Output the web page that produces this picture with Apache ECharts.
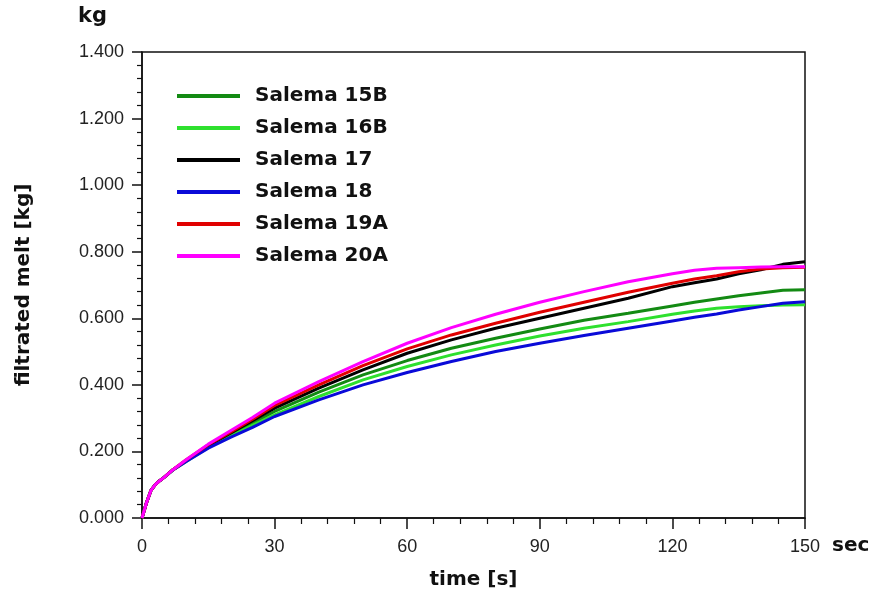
<!DOCTYPE html>
<html>
<head>
<meta charset="utf-8">
<script src="https://cdn.jsdelivr.net/npm/echarts@6/dist/echarts.min.js"></script>
<style>
html,body{margin:0;padding:0;background:#fff;}
#chart{width:882px;height:605px;}
</style>
</head>
<body>
<div id="chart"></div>
<script>
// time in seconds
var time = [0,1,2,3,4,5,7,10,15,20,25,30,40,50,60,70,80,90,100,110,120,125,130,135,140,145,150];
var seriesNames = ['Salema 15B','Salema 16B','Salema 17','Salema 18','Salema 19A','Salema 20A'];
var salema15B = [0,0.045,0.082,0.1,0.112,0.122,0.145,0.172,0.216,0.25,0.285,0.32,0.378,0.43,0.473,0.51,0.54,0.568,0.594,0.615,0.637,0.648,0.658,0.668,0.676,0.684,0.686];
var salema16B = [0,0.045,0.082,0.1,0.112,0.122,0.144,0.17,0.212,0.245,0.278,0.31,0.365,0.415,0.455,0.49,0.52,0.547,0.57,0.59,0.612,0.622,0.63,0.635,0.638,0.64,0.641];
var salema17  = [0,0.045,0.082,0.1,0.112,0.122,0.145,0.173,0.218,0.255,0.292,0.33,0.39,0.445,0.495,0.535,0.57,0.6,0.63,0.66,0.695,0.707,0.718,0.734,0.746,0.762,0.77];
var salema18  = [0,0.045,0.082,0.1,0.112,0.122,0.144,0.17,0.21,0.242,0.272,0.305,0.355,0.4,0.437,0.47,0.5,0.525,0.548,0.57,0.592,0.603,0.613,0.625,0.635,0.645,0.65];
var salema19A = [0,0.045,0.082,0.1,0.112,0.122,0.145,0.175,0.22,0.258,0.297,0.338,0.4,0.458,0.508,0.55,0.585,0.618,0.648,0.678,0.705,0.718,0.728,0.74,0.748,0.752,0.753];
var salema20A = [0,0.045,0.082,0.1,0.112,0.122,0.145,0.175,0.222,0.262,0.302,0.345,0.41,0.47,0.525,0.572,0.612,0.648,0.68,0.71,0.734,0.744,0.75,0.752,0.754,0.755,0.755];
var seriesValues = [salema15B, salema16B, salema17, salema18, salema19A, salema20A];
var colors = ['#138a13','#2ee02e','#000000','#0a0ad8','#e00000','#ff00ff'];

var chart = echarts.init(document.getElementById('chart'), null, {renderer:'canvas'});
var series = seriesNames.map(function(n,i){
  return {
    name:n, type:'line', showSymbol:false, symbol:'none', smooth:false,
    lineStyle:{width:3,color:colors[i]}, itemStyle:{color:colors[i]},
    data: time.map(function(t,k){return [t, seriesValues[i][k]];})
  };
});
var boldFont = 'DejaVu Sans';
chart.setOption({
  animation:false,
  backgroundColor:'#ffffff',
  grid:{left:142,right:77,top:52,bottom:87,show:true,borderColor:'#111',borderWidth:1.5,backgroundColor:'transparent'},
  legend:{
    orient:'vertical', left:172, top:81, icon:'rect', itemWidth:63, itemHeight:4, itemGap:12,
    data:seriesNames,
    textStyle:{fontFamily:boldFont,fontWeight:'bold',fontSize:20,lineHeight:20,color:'#111',padding:[0,0,0,10]}
  },
  xAxis:{
    type:'value', min:0, max:150, interval:30,
    name:'time [s]', nameLocation:'middle', nameGap:52,
    nameTextStyle:{fontFamily:boldFont,fontWeight:'bold',fontSize:20,color:'#111'},
    axisLine:{show:true,lineStyle:{color:'#111',width:1.5}},
    axisTick:{show:true,inside:false,length:11,lineStyle:{color:'#111',width:1.5}},
    minorTick:{show:true,splitNumber:5,length:6,lineStyle:{color:'#111',width:1.2}},
    splitLine:{show:false},
    axisLabel:{fontFamily:'Liberation Sans',fontSize:18,color:'#222',margin:20}
  },
  yAxis:{
    type:'value', min:0, max:1.4, interval:0.2,
    name:'filtrated melt [kg]', nameLocation:'middle', nameGap:108, nameRotate:90,
    nameTextStyle:{fontFamily:boldFont,fontWeight:'bold',fontSize:20,color:'#111'},
    axisLine:{show:true,lineStyle:{color:'#111',width:1.5}},
    axisTick:{show:true,inside:false,length:10,lineStyle:{color:'#111',width:1.5}},
    minorTick:{show:true,splitNumber:5,length:5,lineStyle:{color:'#111',width:1.2}},
    splitLine:{show:false},
    axisLabel:{fontFamily:'Liberation Sans',fontSize:18,color:'#222',margin:18,
      formatter:function(v){return v.toFixed(3);}}
  },
  graphic:[
    {type:'text',left:78,top:6,style:{text:'kg',fontFamily:boldFont,fontWeight:'bold',fontSize:21,fill:'#111'}},
    {type:'text',left:832,top:536,style:{text:'sec',fontFamily:boldFont,fontWeight:'bold',fontSize:20,fill:'#111'}}
  ],
  series:series
});
</script>
</body>
</html>
